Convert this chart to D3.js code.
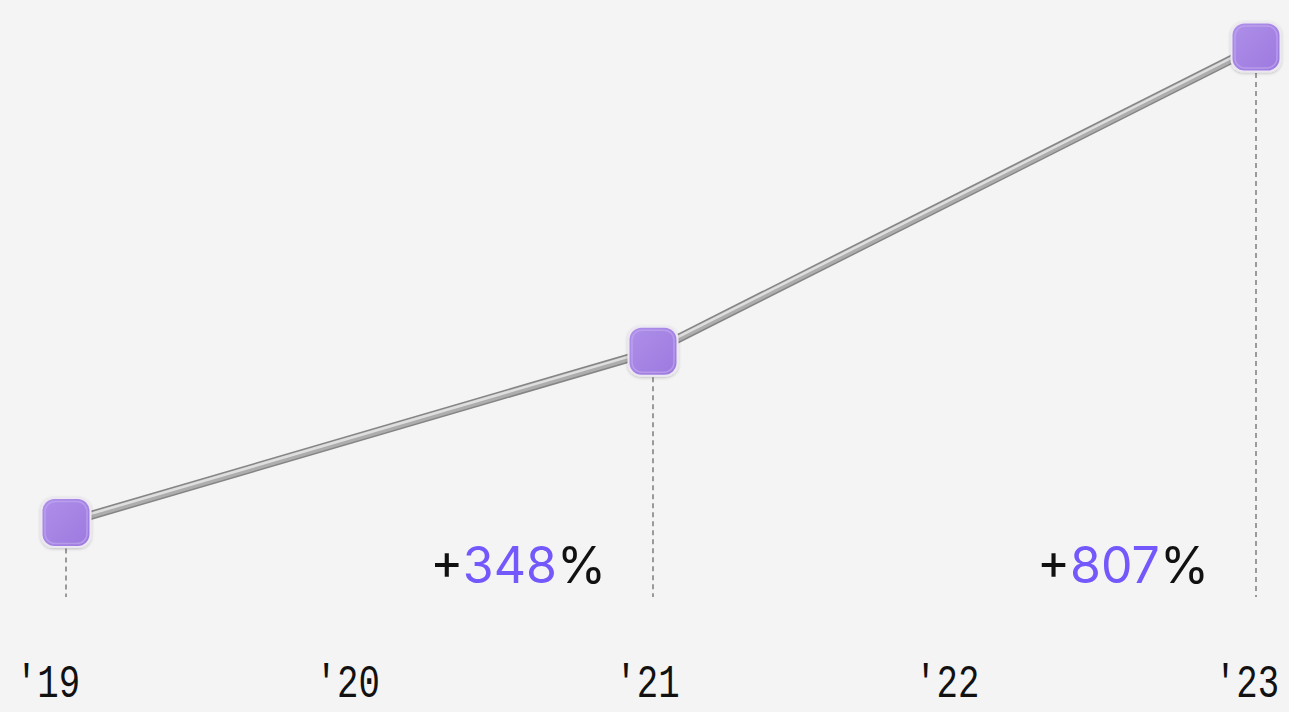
<!DOCTYPE html>
<html>
<head>
<meta charset="utf-8">
<script src="https://cdn.jsdelivr.net/npm/d3@7/dist/d3.min.js"></script>
<style>
html,body{margin:0;padding:0;background:#f4f4f4;}
svg{display:block;}
</style>
</head>
<body>
<svg id="chart" width="1289" height="712"></svg>
<script>
const years = ["'19", "'20", "'21", "'22", "'23"];
const pointYears = [2019, 2021, 2023];
const pointValues = [14, 45, 100];
const annotations = [{year: 2021, value: "348"}, {year: 2023, value: "807"}];

const W = 1289, H = 712;
const svg = d3.select("#chart");

const x = d3.scaleLinear().domain([2019, 2021, 2023]).range([66, 653, 1256]);
const y = d3.scaleLinear().domain([0, 100]).range([600, 47]);
const xLabel = d3.scalePoint().domain(years).range([48, 1247]);

const defs = svg.append("defs");
const mg = defs.append("linearGradient").attr("id", "mg").attr("x1", 0).attr("y1", 0).attr("x2", 1).attr("y2", 1);
mg.append("stop").attr("offset", "0%").attr("stop-color", "#ae8fe9");
mg.append("stop").attr("offset", "100%").attr("stop-color", "#9d79df");
const f = defs.append("filter").attr("id", "sh").attr("x", "-30%").attr("y", "-30%").attr("width", "160%").attr("height", "160%");
f.append("feDropShadow").attr("dx", 0).attr("dy", 1).attr("stdDeviation", 1.5).attr("flood-color", "#000").attr("flood-opacity", 0.22);

const data = pointYears.map((yr, i) => ({year: yr, v: pointValues[i]}));

// dashed drop lines
svg.append("g").selectAll("line").data(data).join("line")
  .attr("x1", d => x(d.year)).attr("x2", d => x(d.year))
  .attr("y1", d => y(d.v) + 26).attr("y2", 597)
  .attr("stroke", "#9a9a9a").attr("stroke-width", 2).attr("stroke-dasharray", "5,4");

// tube line
const line = d3.line().x(d => x(d.year)).y(d => y(d.v));
svg.append("path").datum(data).attr("d", line).attr("fill", "none")
  .attr("stroke", "#858585").attr("stroke-width", 9).attr("stroke-linejoin", "round");
svg.append("path").datum(data).attr("d", line).attr("fill", "none")
  .attr("stroke", "#adadad").attr("stroke-width", 6).attr("stroke-linejoin", "round");
svg.append("path").datum(data).attr("d", line).attr("fill", "none")
  .attr("transform", "translate(0,-1.5)")
  .attr("stroke", "#dedede").attr("stroke-width", 2.5).attr("stroke-linejoin", "round");

// markers
const mk = svg.append("g").selectAll("g").data(data).join("g")
  .attr("transform", d => `translate(${x(d.year)},${y(d.v)})`);
mk.append("rect").attr("x", -25.5).attr("y", -25.5).attr("width", 51).attr("height", 51)
  .attr("rx", 13).attr("fill", "#ece8f1").attr("filter", "url(#sh)");
mk.append("rect").attr("x", -23.5).attr("y", -23.5).attr("width", 47).attr("height", 47)
  .attr("rx", 12).attr("fill", "url(#mg)");
mk.append("rect").attr("x", -21).attr("y", -21).attr("width", 42).attr("height", 42)
  .attr("rx", 10).attr("fill", "none").attr("stroke", "#bfa6ee").attr("stroke-width", 1.5).attr("opacity", 0.7);

// annotations
const at = svg.append("g").selectAll("text").data(annotations).join("text")
  .attr("x", d => x(d.year) - 47).attr("y", 583)
  .attr("text-anchor", "end")
  .attr("font-family", "Inter, 'Noto Sans', sans-serif")
  .attr("font-size", 50).attr("fill", "#111");
at.append("tspan").text("+");
at.append("tspan").attr("fill", "#7558fb").text(d => d.value);
at.append("tspan").text("%");

// year labels (horizontally condensed monospace)
svg.append("g").selectAll("text").data(years).join("text")
  .attr("transform", d => `translate(${xLabel(d)},697) scale(0.76,1)`)
  .attr("text-anchor", "middle")
  .attr("font-family", "'Liberation Mono', 'DejaVu Sans Mono', monospace")
  .attr("font-size", 47).attr("fill", "#111")
  .text(d => d);
</script>
</body>
</html>
